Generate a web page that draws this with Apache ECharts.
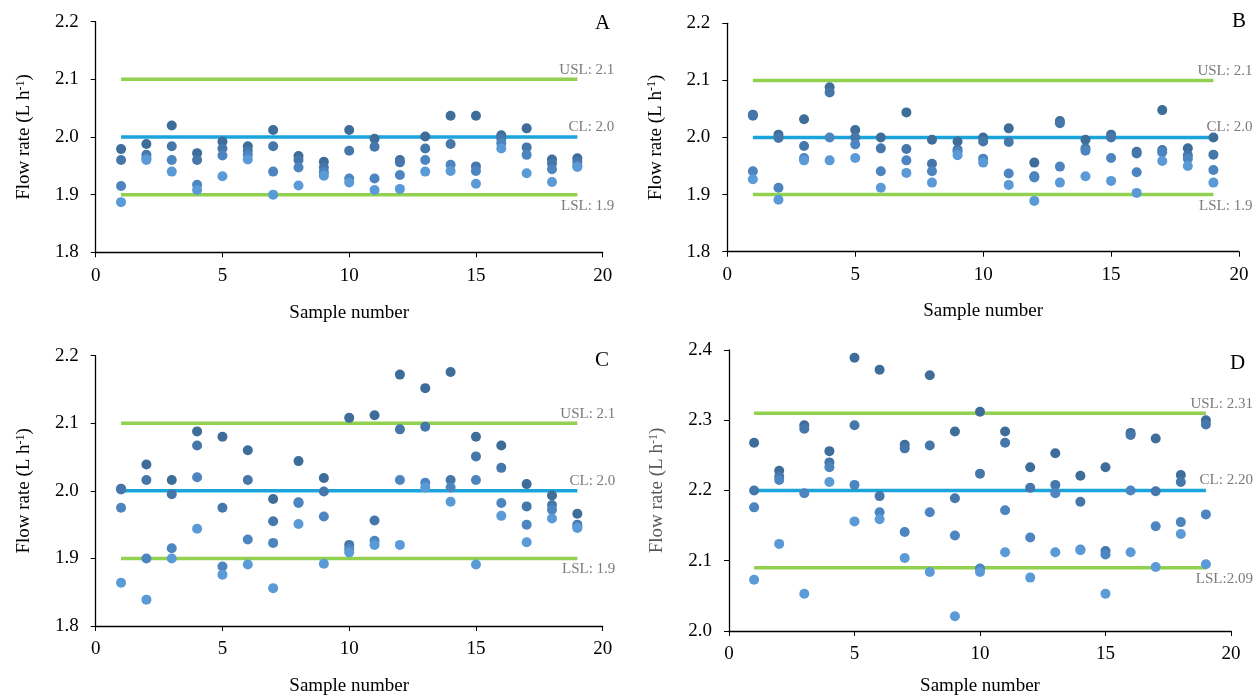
<!DOCTYPE html>
<html>
<head>
<meta charset="utf-8">
<script src="https://cdn.jsdelivr.net/npm/echarts@6/dist/echarts.min.js"></script>
<style>
html,body{margin:0;padding:0;background:#fff;}
#chart{width:1254px;height:697px;}
</style>
</head>
<body>
<div id="chart"></div>
<script>
// ---- data (each row: the 4 measurements of one sample) ----
const sampleNumbers = [1,2,3,4,5,6,7,8,9,10,11,12,13,14,15,16,17,18,19];
const panelLetters = ['A','B','C','D'];

const flowA = [
  [1.979,1.960,1.915,1.887],[1.988,1.969,1.963,1.960],[2.020,1.984,1.960,1.940],
  [1.972,1.960,1.917,1.908],[1.992,1.980,1.968,1.932],[1.984,1.976,1.969,1.961],
  [2.012,1.984,1.940,1.900],[1.967,1.960,1.947,1.916],[1.957,1.947,1.939,1.933],
  [2.012,1.976,1.928,1.921],[1.997,1.983,1.928,1.908],[1.960,1.956,1.934,1.910],
  [2.001,1.980,1.960,1.940],[2.037,1.988,1.952,1.941],[2.037,1.949,1.941,1.919],
  [2.003,1.997,1.989,1.980],[2.015,1.982,1.969,1.937],[1.961,1.954,1.944,1.922],
  [1.963,1.957,1.950,1.948]
];
const flowB = [
  [2.040,2.038,1.941,1.927],[2.005,1.999,1.912,1.891],[2.032,1.985,1.964,1.960],
  [2.088,2.079,2.000,1.960],[2.013,2.000,1.988,1.964],[2.000,1.981,1.941,1.912],
  [2.044,1.980,1.960,1.938],[1.996,1.954,1.941,1.921],[1.993,1.979,1.975,1.969],
  [2.000,1.993,1.963,1.956],[2.016,1.992,1.937,1.917],[1.956,1.932,1.930,1.889],
  [2.029,2.025,1.949,1.921],[1.996,1.981,1.977,1.932],[2.005,2.000,1.964,1.924],
  [1.975,1.972,1.939,1.903],[2.048,1.978,1.974,1.959],[1.981,1.969,1.963,1.950],
  [2.000,1.970,1.943,1.921]
];
const flowC = [
  [2.003,2.002,1.975,1.864],[2.039,2.016,1.900,1.839],[2.016,1.995,1.915,1.900],
  [2.088,2.067,2.020,1.944],[2.080,1.975,1.888,1.876],[2.060,2.016,1.928,1.891],
  [1.988,1.955,1.923,1.856],[2.044,1.983,1.982,1.951],[2.019,1.999,1.962,1.892],
  [2.108,1.920,1.914,1.909],[2.112,1.956,1.926,1.920],[2.172,2.091,2.016,1.920],
  [2.152,2.095,2.012,2.005],[2.176,2.016,2.005,1.984],[2.080,2.051,2.016,1.891],
  [2.067,2.034,1.982,1.963],[2.010,1.977,1.950,1.924],[1.993,1.979,1.972,1.959],
  [1.966,1.950,1.947,1.945]
];
const flowD = [
  [2.268,2.200,2.176,2.073],[2.228,2.220,2.215,2.124],[2.293,2.288,2.196,2.053],
  [2.256,2.240,2.233,2.212],[2.389,2.293,2.208,2.156],[2.372,2.192,2.169,2.159],
  [2.265,2.260,2.141,2.104],[2.364,2.264,2.169,2.084],[2.284,2.189,2.136,2.021],
  [2.312,2.224,2.089,2.084],[2.284,2.268,2.172,2.112],[2.233,2.204,2.133,2.076],
  [2.253,2.208,2.196,2.112],[2.221,2.184,2.116,2.115],[2.233,2.114,2.109,2.053],
  [2.282,2.279,2.200,2.112],[2.274,2.199,2.149,2.091],[2.222,2.212,2.155,2.138],
  [2.300,2.294,2.166,2.095]
];

// limits: [USL, CL, LSL]
const limitsA = [2.1, 2.0, 1.9];
const limitsB = [2.1, 2.0, 1.9];
const limitsC = [2.1, 2.0, 1.9];
const limitsD = [2.31, 2.20, 2.09];
const limitTextA = ['USL: 2.1','CL: 2.0','LSL: 1.9'];
const limitTextB = ['USL: 2.1','CL: 2.0','LSL: 1.9'];
const limitTextC = ['USL: 2.1','CL: 2.0','LSL: 1.9'];
const limitTextD = ['USL: 2.31','CL: 2.20','LSL:2.09'];
const limitStart = 1, limitEnd = 19;

const yRanges = [[1.8,2.2],[1.8,2.2],[1.8,2.2],[2.0,2.4]];
const xRange = [0, 20];

// ---- layout / style ----
const SERIF = '"Liberation Serif","Times New Roman",serif';
const grids = [
  {left: 95.7, top: 21.7, width: 507, height: 230.6},
  {left: 727.3, top: 23.3, width: 511.7, height: 228.4},
  {left: 95.7, top: 355.7, width: 507, height: 272.6},
  {left: 729, top: 350, width: 502, height: 285}
];
const xNameGap = [51, 50, 51, 46];
const labelDx = [37, 39, 38, 47];
const letterPos = [[595,13],[1232,11],[595,350],[1230,353]];
const yNameColor = ['#000','#000','#000','#595959'];
const dotColors = ['#3E6D9A','#4677AA','#4C85BF','#5A9AD6'];
const limitColors = ['#92D050','#1BA3DC','#92D050'];

const flows = [flowA, flowB, flowC, flowD];
const limits = [limitsA, limitsB, limitsC, limitsD];
const limitTexts = [limitTextA, limitTextB, limitTextC, limitTextD];

const xAxes = [], yAxes = [], series = [], titles = [];
for (let p = 0; p < 4; p++) {
  xAxes.push({
    gridIndex: p, type: 'value', min: xRange[0], max: xRange[1], interval: 5,
    name: 'Sample number', nameLocation: 'middle', nameGap: xNameGap[p],
    nameTextStyle: {fontFamily: SERIF, fontSize: 19, color: '#000'},
    axisLine: {show: true, onZero: false, lineStyle: {color: '#000', width: 1.3}},
    axisTick: {show: true, length: 5, lineStyle: {color: '#000'}},
    axisLabel: {fontFamily: SERIF, fontSize: 19, color: '#000', margin: 14},
    splitLine: {show: false}
  });
  yAxes.push({
    gridIndex: p, type: 'value', min: yRanges[p][0], max: yRanges[p][1], interval: 0.1,
    name: 'Flow rate (L h{sup|-1})', nameLocation: 'middle', nameGap: 62,
    nameTextStyle: {fontFamily: SERIF, fontSize: 19, color: yNameColor[p],
      rich: {sup: {fontFamily: SERIF, fontSize: 12, color: yNameColor[p], verticalAlign: 'top', padding: [0,0,6,0]}}},
    axisLine: {show: true, onZero: false, lineStyle: {color: '#000', width: 1.3}},
    axisTick: {show: true, length: 5, lineStyle: {color: '#000'}},
    axisLabel: {fontFamily: SERIF, fontSize: 19, color: '#000', margin: 17,
      formatter: v => v.toFixed(1)},
    splitLine: {show: false}
  });
  titles.push({text: panelLetters[p], left: letterPos[p][0], top: letterPos[p][1], padding: 0,
    textStyle: {fontFamily: SERIF, fontSize: 21, fontWeight: 'normal', color: '#000'}});

  // limit lines
  for (let k = 0; k < 3; k++) {
    series.push({
      type: 'line', xAxisIndex: p, yAxisIndex: p, symbol: 'none', silent: true, z: 1,
      data: [[limitStart, limits[p][k]], [limitEnd, limits[p][k]]],
      lineStyle: {color: limitColors[k], width: 3.5}
    });
  }
  // limit labels
  const dys = [-9, -10, 11];
  series.push({
    type: 'scatter', xAxisIndex: p, yAxisIndex: p, symbolSize: 0, clip: false, silent: true, z: 3,
    data: limits[p].map((v, k) => ({
      value: [limitEnd, v],
      label: {show: true, formatter: limitTexts[p][k], position: [labelDx[p], dys[k]],
        align: 'right', verticalAlign: 'middle',
        fontFamily: SERIF, fontSize: 15, color: '#595959'}
    }))
  });
  // measurements
  for (let r = 0; r < 4; r++) {
    series.push({
      type: 'scatter', xAxisIndex: p, yAxisIndex: p, symbolSize: 10, z: 2,
      itemStyle: {color: dotColors[r], opacity: 1},
      data: sampleNumbers.map((s, i) => [s, flows[p][i][r]])
    });
  }
}

const chart = echarts.init(document.getElementById('chart'), null, {renderer: 'canvas'});
chart.setOption({
  backgroundColor: '#fff',
  animation: false,
  title: titles,
  grid: grids,
  xAxis: xAxes,
  yAxis: yAxes,
  series: series
});
</script>
</body>
</html>
